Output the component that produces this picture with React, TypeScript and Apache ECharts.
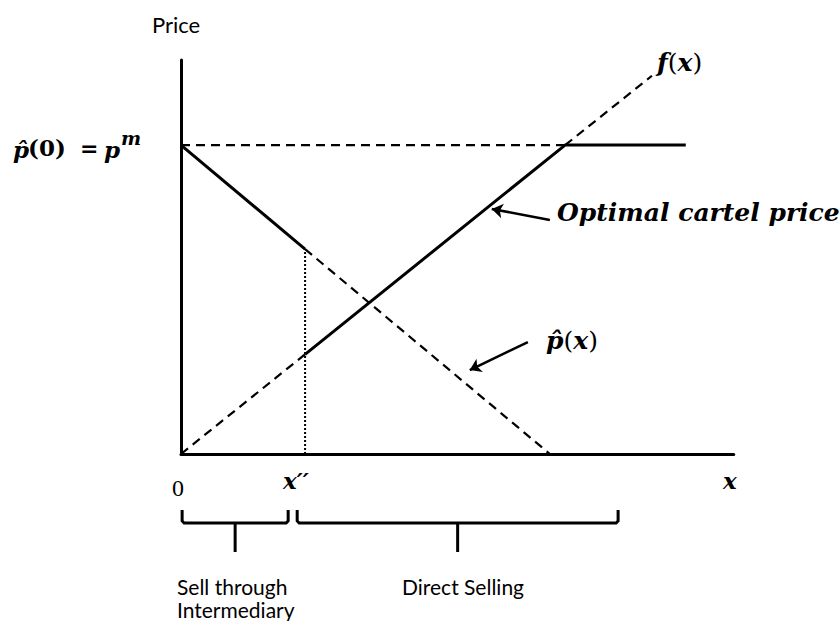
import React, { useEffect, useRef } from "react";
import * as echarts from "echarts";

// ---- data (in chart units: x 0..98, y 0..100) ----
const xDoublePrime = 22.0; // x''
const pMonopoly = 78.4; // p̂(0) = p^m
const pHatAtXpp = 52.0; // p̂(x'')
const pHatZero = 65.4; // p̂(x) = 0
const fAtXpp = 25.3; // f(x'')
const kinkX = 68.1; // f(x) = p^m
const fEnd = [83.5, 96.0];
const flatEndX = 89.5;
const xMax = 98;

const pHatSolid = [[0, pMonopoly], [xDoublePrime, pHatAtXpp]];
const pHatDashed = [[xDoublePrime, pHatAtXpp], [pHatZero, 0]];
const fDashedLow = [[0, 0], [xDoublePrime, fAtXpp]];
const cartelSolid = [[xDoublePrime, fAtXpp], [kinkX, pMonopoly], [flatEndX, pMonopoly]];
const fDashedHigh = [[kinkX, pMonopoly], fEnd];
const pmDashed = [[0, pMonopoly], [kinkX, pMonopoly]];
const xppDotted = [[xDoublePrime, 0], [xDoublePrime, pHatAtXpp]];

const cartelArrow = [[65.4, 59.4], [55.1, 62.2]];
const pHatArrow = [[61.5, 28.4], [51.2, 21.3]];

const braceRanges = [[0.2, 19.0], [20.6, 77.5]];
const braceLabels = [["Sell through", "Intermediary"], ["Direct Selling"]];

const SERIF = "'DejaVu Serif', serif";
const SANS = "Lato, 'Open Sans', sans-serif";

export default function App() {
  const ref = useRef<HTMLDivElement>(null);
  useEffect(() => {
    if (!ref.current) return;
    const chart = echarts.init(ref.current, null, { renderer: "svg" });
    const lineSeries = (data: number[][], width: number, dash?: number[]) => ({
      type: "line",
      data,
      showSymbol: false,
      symbol: "none",
      silent: true,
      clip: false,
      lineStyle: {
        color: "#000",
        width,
        type: dash ? dash : "solid",
        cap: "butt",
      },
    });
    chart.setOption({
      animation: false,
      backgroundColor: "#fff",
      grid: { left: 181, right: 839 - (181 + xMax * 5.64), top: 60, bottom: 167 },
      xAxis: {
        type: "value",
        min: 0,
        max: xMax,
        axisLine: { show: true, onZero: false, lineStyle: { color: "#000", width: 3 } },
        axisTick: { show: false },
        axisLabel: { show: false },
        splitLine: { show: false },
      },
      yAxis: {
        type: "value",
        min: 0,
        max: 100,
        axisLine: { show: true, onZero: false, lineStyle: { color: "#000", width: 3 } },
        axisTick: { show: false },
        axisLabel: { show: false },
        splitLine: { show: false },
      },
      series: [
        lineSeries(pmDashed, 2.2, [9, 6]),
        lineSeries(pHatDashed, 2.2, [9, 6]),
        lineSeries(fDashedLow, 2.2, [9, 6]),
        lineSeries(fDashedHigh, 2.2, [9, 6]),
        lineSeries(xppDotted, 2, [2, 2]),
        lineSeries(pHatSolid, 3),
        lineSeries(cartelSolid, 3),
        {
          type: "lines",
          coordinateSystem: "cartesian2d",
          silent: true,
          symbol: ["none", "arrow"],
          symbolSize: 11,
          lineStyle: { color: "#000", width: 2.5, opacity: 1 },
          data: [{ coords: cartelArrow }, { coords: pHatArrow }],
        },
      ],
    });

    // annotations
    const toPx = (x: number, y: number) => chart.convertToPixel({ gridIndex: 0 }, [x, y]) as number[];
    const braceTop = 510;
    const braceBottom = 523;
    const stemBottom = 552;
    const graphics: any[] = [];
    braceRanges.forEach((r) => {
      const x1 = toPx(r[0], 0)[0];
      const x2 = toPx(r[1], 0)[0];
      const mid = (x1 + x2) / 2;
      graphics.push({
        type: "polyline",
        shape: {
          points: [
            [x1, braceTop],
            [x1, braceBottom - 2],
            [x1 + 2, braceBottom],
            [x2 - 2, braceBottom],
            [x2, braceBottom - 2],
            [x2, braceTop],
          ],
        },
        style: { stroke: "#000", lineWidth: 3, fill: null },
      });
      graphics.push({
        type: "line",
        shape: { x1: mid, y1: braceBottom, x2: mid, y2: stemBottom },
        style: { stroke: "#000", lineWidth: 3 },
      });
    });
    const txt = (x: number, y: number, text: string, font: any, extra: any = {}) => ({
      type: "text",
      x,
      y,
      style: {
        text,
        fill: "#000",
        align: "left",
        verticalAlign: "middle",
        ...font,
        ...extra,
      },
    });
    const mathFont = { fontFamily: SERIF, fontSize: 22, fontWeight: "bold", fontStyle: "italic" };
    const richMath = {
      i: { fontFamily: SERIF, fontSize: 25, fontWeight: "bold", fontStyle: "italic" },
      r: { fontFamily: SERIF, fontSize: 25, fontWeight: "normal", fontStyle: "normal" },
    };
    graphics.push(txt(176, 24, "Price", { fontFamily: SANS, fontSize: 22 }, { align: "center" }));
    // p̂(0) = p^m
    graphics.push(txt(13, 149, "p\u0302", { ...mathFont, fontSize: 23 }));
    graphics.push(txt(28, 147, "(0)", { fontFamily: SERIF, fontSize: 23, fontWeight: "bold" }));
    graphics.push(txt(80, 148, "=", { fontFamily: SERIF, fontSize: 22, fontWeight: "bold" }));
    graphics.push(txt(104, 149, "p", { ...mathFont, fontSize: 23 }));
    graphics.push(txt(121, 138, "m", { ...mathFont, fontSize: 19 }));
    // f(x)
    graphics.push(txt(657, 62, "{i|f}{r|(}{i|x}{r|)}", {}, { rich: richMath }));
    // p̂(x)
    graphics.push(txt(546, 340, "{i|p\u0302}{r|(}{i|x}{r|)}", {}, { rich: richMath }));
    // Optimal cartel price
    graphics.push(txt(557, 212, "Optimal cartel price", { ...mathFont, fontSize: 25 }));
    // axis labels
    graphics.push(txt(178, 488, "0", { fontFamily: "'Liberation Serif', serif", fontSize: 24 }, { align: "center" }));
    graphics.push(txt(283, 480, "x\u2032\u2032", { ...mathFont, fontSize: 23 }));
    graphics.push(txt(723, 480, "x", { ...mathFont, fontSize: 23 }));
    // brace labels
    graphics.push(txt(177, 586, braceLabels[0][0], { fontFamily: SANS, fontSize: 21 }));
    graphics.push(txt(177, 609, braceLabels[0][1], { fontFamily: SANS, fontSize: 21 }));
    graphics.push(txt(402, 586, braceLabels[1][0], { fontFamily: SANS, fontSize: 21 }));

    chart.setOption({ graphic: graphics });
    return () => chart.dispose();
  }, []);
  return (
    <div
      ref={ref}
      style={{ position: "absolute", left: 0, top: 0, width: 839, height: 621, background: "#fff" }}
    />
  );
}
